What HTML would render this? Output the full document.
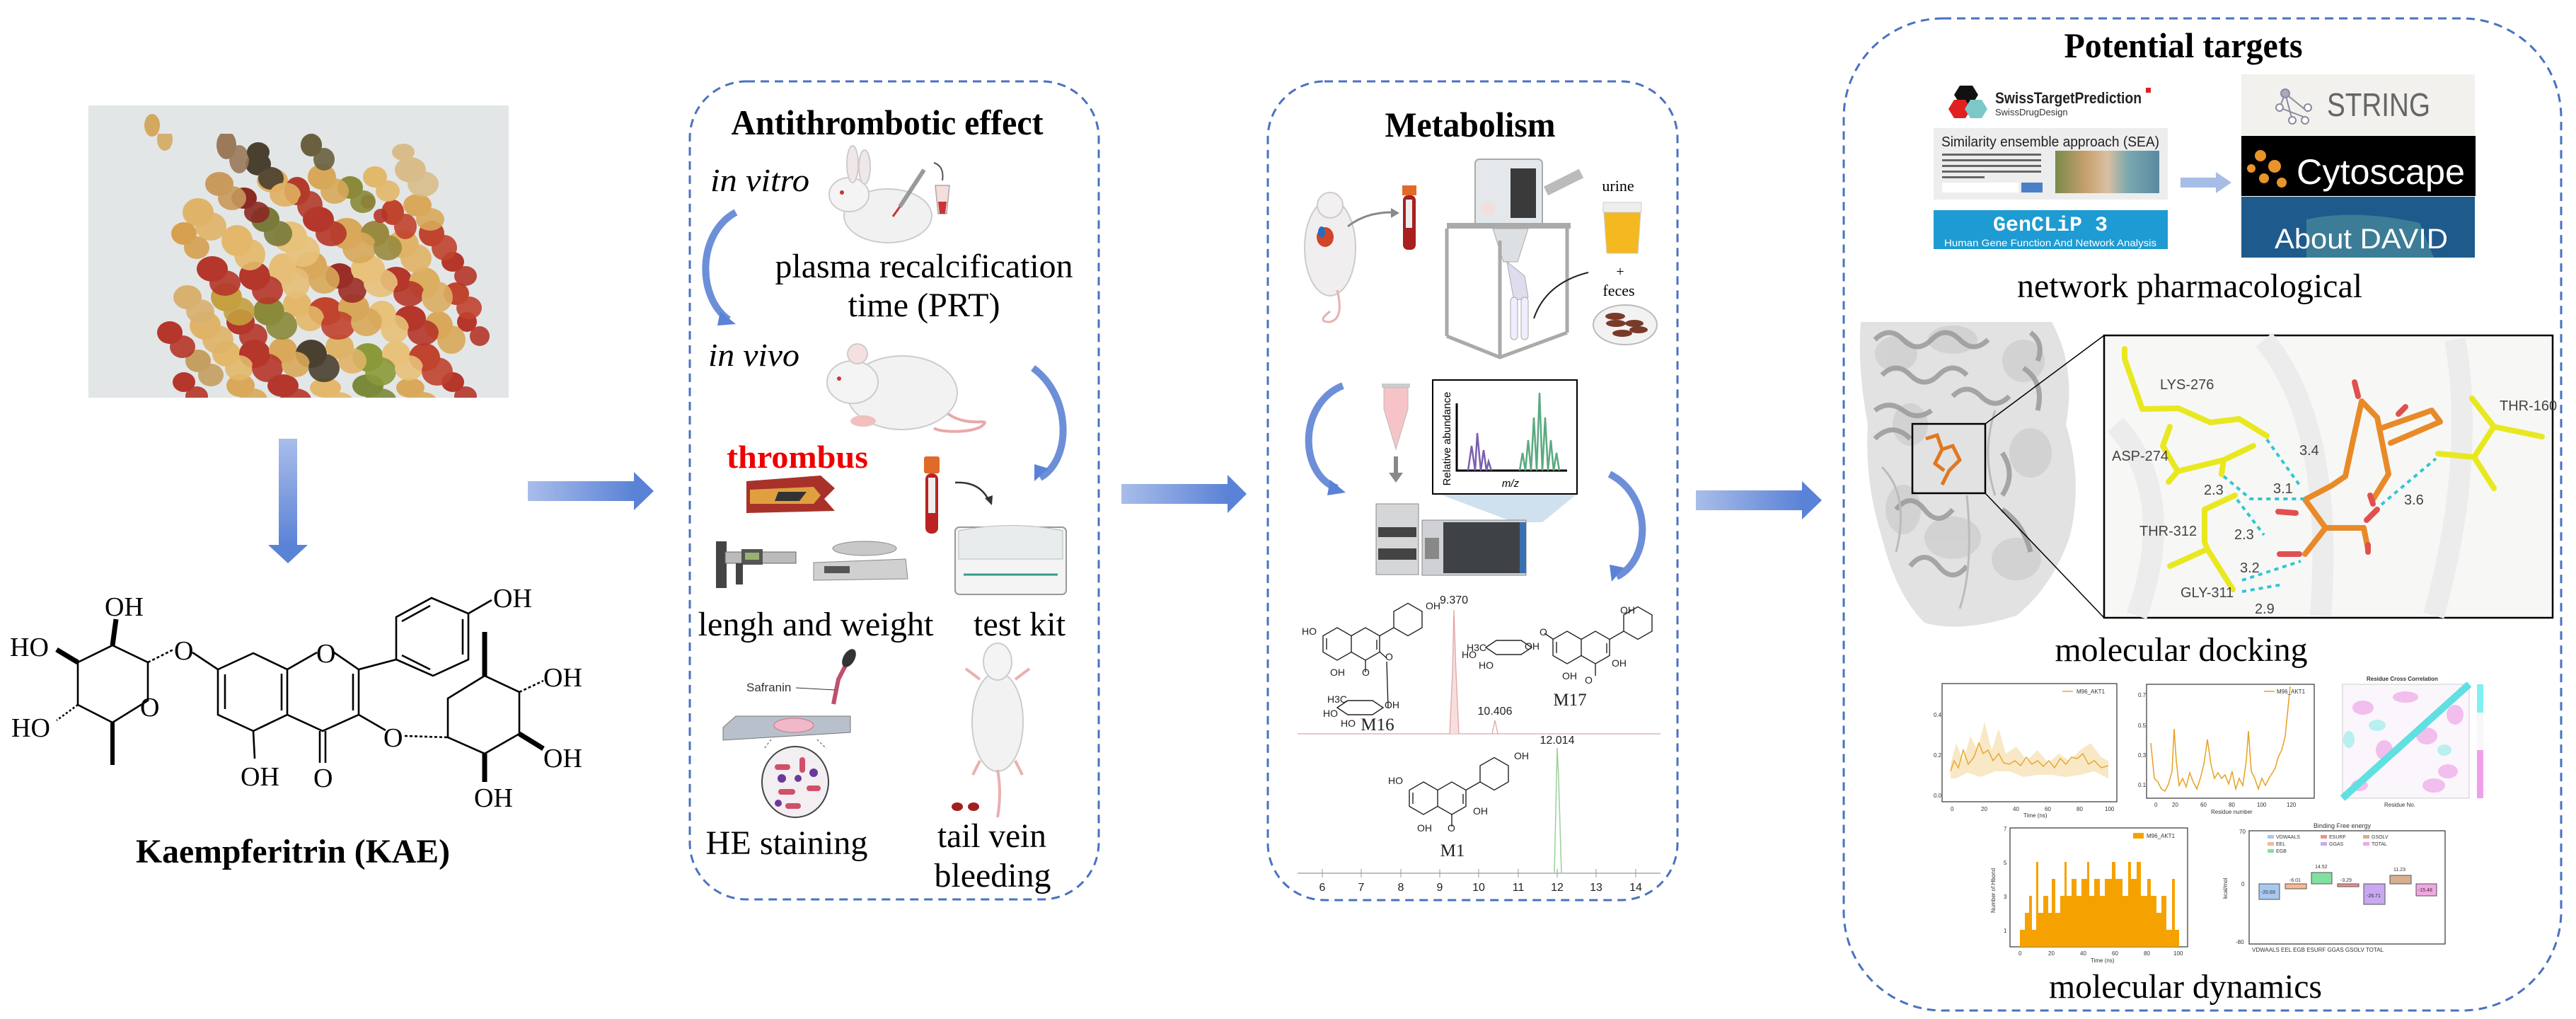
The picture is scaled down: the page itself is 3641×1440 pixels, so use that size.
<!DOCTYPE html>
<html><head><meta charset="utf-8"><style>
html,body{margin:0;padding:0;background:#fff;}
svg{display:block;}
.s{font-family:"Liberation Serif",serif;}
.a{font-family:"Liberation Sans",sans-serif;}
</style></head><body>
<svg width="3641" height="1440" viewBox="0 0 3641 1440" xmlns="http://www.w3.org/2000/svg">
<defs>
<linearGradient id="ga" x1="0" y1="0" x2="1" y2="0"><stop offset="0" stop-color="#a9bdea"/><stop offset="1" stop-color="#5a82d6"/></linearGradient>
<linearGradient id="gd" x1="0" y1="0" x2="0" y2="1"><stop offset="0" stop-color="#a9bdea"/><stop offset="1" stop-color="#5a82d6"/></linearGradient>
<linearGradient id="beach" x1="0" y1="0" x2="1" y2="0"><stop offset="0" stop-color="#7a8a4a"/><stop offset="0.3" stop-color="#c9a070"/><stop offset="0.5" stop-color="#d8c0a0"/><stop offset="0.7" stop-color="#7aa8b0"/><stop offset="1" stop-color="#5a8aa0"/></linearGradient>
<clipPath id="pc"><rect x="125" y="149" width="594" height="413"/></clipPath>
<g id="flav" fill="none" stroke="#222" stroke-width="1.4">
<polygon points="0,-23 20,-11.5 20,11.5 0,23 -20,11.5 -20,-11.5"/>
<polyline points="20,-11.5 40,-23 60,-11.5 60,11.5 40,23 20,11.5"/>
<line x1="60" y1="-11.5" x2="80" y2="-23"/>
<polygon points="80,-23 80,-46 100,-57.5 120,-46 120,-23 100,-11.5"/>
<line x1="40" y1="23" x2="40" y2="40"/>
<line x1="-15" y1="-8" x2="-15" y2="8"/><line x1="56" y1="-6" x2="56" y2="8"/>
</g>
</defs>

<!-- PHOTO -->
<rect x="125" y="149" width="594" height="413" fill="#e3e6e7"/>
<g clip-path="url(#pc)">
<g id="seeds">
<ellipse cx="215" cy="177" rx="11" ry="16" fill="#d3a860"/>
<ellipse cx="580" cy="240" rx="22" ry="18" fill="#d8bd8a"/>
<ellipse cx="520" cy="285" rx="10" ry="10" fill="#b5362a"/>
<ellipse cx="320" cy="205" rx="14" ry="20" fill="#9a7a5a"/>
<ellipse cx="365" cy="232" rx="18" ry="16" fill="#4a4030"/>
<ellipse cx="440" cy="205" rx="15" ry="16" fill="#6a6040"/>
<ellipse cx="280" cy="300" rx="22" ry="20" fill="#e0b468"/>
<ellipse cx="260" cy="330" rx="18" ry="16" fill="#d6a050"/>
<ellipse cx="310" cy="260" rx="20" ry="17" fill="#c89a5c"/>
<ellipse cx="345" cy="280" rx="18" ry="15" fill="#8a2a22"/>
<ellipse cx="385" cy="255" rx="22" ry="17" fill="#e0b060"/>
<ellipse cx="420" cy="270" rx="18" ry="20" fill="#b33b2b"/>
<ellipse cx="455" cy="250" rx="20" ry="18" fill="#d8a85a"/>
<ellipse cx="495" cy="265" rx="18" ry="16" fill="#8a8a3a"/>
<ellipse cx="530" cy="250" rx="17" ry="15" fill="#e2b86a"/>
<ellipse cx="555" cy="300" rx="16" ry="18" fill="#c0442e"/>
<ellipse cx="590" cy="290" rx="20" ry="16" fill="#d9a85a"/>
<ellipse cx="300" cy="380" rx="22" ry="18" fill="#b5362a"/>
<ellipse cx="335" cy="340" rx="22" ry="22" fill="#e3b86a"/>
<ellipse cx="375" cy="310" rx="20" ry="18" fill="#7a7a3a"/>
<ellipse cx="410" cy="335" rx="24" ry="22" fill="#e8c17a"/>
<ellipse cx="450" cy="310" rx="22" ry="18" fill="#b5362a"/>
<ellipse cx="490" cy="330" rx="24" ry="22" fill="#d9a85a"/>
<ellipse cx="530" cy="330" rx="20" ry="18" fill="#9a8a40"/>
<ellipse cx="570" cy="345" rx="22" ry="20" fill="#e0b468"/>
<ellipse cx="610" cy="330" rx="18" ry="18" fill="#c0442e"/>
<ellipse cx="640" cy="370" rx="16" ry="14" fill="#b5362a"/>
<ellipse cx="265" cy="420" rx="20" ry="17" fill="#d8b070"/>
<ellipse cx="320" cy="420" rx="22" ry="20" fill="#c4a040"/>
<ellipse cx="360" cy="390" rx="22" ry="20" fill="#b5362a"/>
<ellipse cx="400" cy="380" rx="20" ry="22" fill="#e6be78"/>
<ellipse cx="440" cy="375" rx="22" ry="20" fill="#d9a85a"/>
<ellipse cx="480" cy="390" rx="20" ry="18" fill="#9a2e26"/>
<ellipse cx="520" cy="380" rx="24" ry="20" fill="#e8c17a"/>
<ellipse cx="560" cy="395" rx="22" ry="18" fill="#b5362a"/>
<ellipse cx="600" cy="400" rx="22" ry="22" fill="#dcae62"/>
<ellipse cx="645" cy="415" rx="18" ry="16" fill="#c0442e"/>
<ellipse cx="240" cy="470" rx="18" ry="16" fill="#b5362a"/>
<ellipse cx="290" cy="460" rx="22" ry="20" fill="#e0b468"/>
<ellipse cx="340" cy="455" rx="20" ry="18" fill="#b5362a"/>
<ellipse cx="380" cy="440" rx="22" ry="20" fill="#8a8a3a"/>
<ellipse cx="420" cy="430" rx="20" ry="18" fill="#e3b86a"/>
<ellipse cx="460" cy="440" rx="24" ry="20" fill="#c0442e"/>
<ellipse cx="500" cy="435" rx="22" ry="20" fill="#d8a85a"/>
<ellipse cx="540" cy="445" rx="20" ry="20" fill="#e8c17a"/>
<ellipse cx="580" cy="450" rx="22" ry="18" fill="#b5362a"/>
<ellipse cx="620" cy="460" rx="20" ry="20" fill="#d9a85a"/>
<ellipse cx="660" cy="455" rx="14" ry="14" fill="#b5362a"/>
<ellipse cx="280" cy="510" rx="18" ry="16" fill="#c4a060"/>
<ellipse cx="320" cy="500" rx="20" ry="18" fill="#e3b86a"/>
<ellipse cx="360" cy="500" rx="22" ry="20" fill="#b5362a"/>
<ellipse cx="400" cy="495" rx="20" ry="18" fill="#d9a85a"/>
<ellipse cx="440" cy="500" rx="22" ry="20" fill="#4a4030"/>
<ellipse cx="480" cy="490" rx="20" ry="18" fill="#e0b468"/>
<ellipse cx="520" cy="505" rx="22" ry="20" fill="#8a9a3a"/>
<ellipse cx="560" cy="500" rx="20" ry="18" fill="#e8c17a"/>
<ellipse cx="600" cy="505" rx="22" ry="20" fill="#c0442e"/>
<ellipse cx="260" cy="540" rx="16" ry="14" fill="#b5362a"/>
<ellipse cx="340" cy="545" rx="20" ry="16" fill="#d9a85a"/>
<ellipse cx="400" cy="545" rx="22" ry="16" fill="#b5362a"/>
<ellipse cx="460" cy="548" rx="22" ry="14" fill="#e3b86a"/>
<ellipse cx="520" cy="545" rx="22" ry="16" fill="#7a8a3a"/>
<ellipse cx="580" cy="548" rx="20" ry="14" fill="#d9a85a"/>
<ellipse cx="640" cy="540" rx="16" ry="14" fill="#b5362a"/>
</g>
<use href="#seeds" transform="translate(18,20)" opacity="0.9"/>
<rect x="125" y="149" width="594" height="40" fill="#e3e6e7"/>
<ellipse cx="215" cy="177" rx="11" ry="16" fill="#d3a860"/>
<ellipse cx="440" cy="205" rx="15" ry="16" fill="#6a6040"/>
<ellipse cx="365" cy="215" rx="16" ry="14" fill="#4a4030"/>
<ellipse cx="570" cy="215" rx="16" ry="12" fill="#d8bd8a"/>
</g>

<!-- down arrow -->
<rect x="394" y="620" width="26" height="152" fill="url(#gd)"/>
<polygon points="379,770 435,770 407,796" fill="#5a82d6"/>

<!-- KAE structure -->
<g fill="none" stroke="#000" stroke-width="2.6">
<polygon points="110,936 159,912 209,936 209,990 159,1021 110,996"/>
<line x1="110" y1="996" x2="80" y2="1018" stroke-dasharray="3 3"/>
<line x1="209" y1="936" x2="245" y2="918" stroke-dasharray="4 3"/>
<line x1="272" y1="922" x2="308" y2="946"/>
<polygon points="308,946 358,923 406,946 406,1010 358,1033 308,1010"/>
<line x1="318" y1="1002" x2="318" y2="953"/><line x1="398" y1="952" x2="398" y2="1004"/>
<polyline points="406,946 448,922"/><polyline points="472,922 507,946 507,1010 456,1033 406,1010"/>
<line x1="499" y1="952" x2="499" y2="1004"/>
<line x1="452" y1="1033" x2="452" y2="1078"/><line x1="460" y1="1033" x2="460" y2="1078"/>
<line x1="358" y1="1033" x2="360" y2="1072"/>
<line x1="507" y1="946" x2="560" y2="932"/>
<polygon points="560,872 610,845 662,867 662,932 612,955 560,932"/>
<line x1="568" y1="878" x2="608" y2="856"/><line x1="654" y1="875" x2="654" y2="925"/><line x1="568" y1="926" x2="608" y2="946"/>
<line x1="662" y1="867" x2="695" y2="848"/>
<line x1="507" y1="1010" x2="545" y2="1032"/>
<line x1="572" y1="1040" x2="633" y2="1042" stroke-dasharray="4 3"/>
<polygon points="633,987 685,955 734,978 734,1037 685,1065 633,1042"/>
<line x1="685" y1="955" x2="685" y2="893" stroke-width="7"/>
<line x1="734" y1="978" x2="768" y2="962" stroke-dasharray="4 3"/>
<line x1="734" y1="1037" x2="768" y2="1058" stroke-width="7"/>
<line x1="685" y1="1065" x2="685" y2="1105" stroke-width="7"/>
<line x1="159" y1="912" x2="164" y2="875" stroke-width="7"/>
<line x1="110" y1="936" x2="80" y2="918" stroke-width="7"/>
<line x1="159" y1="1021" x2="159" y2="1081" stroke-width="6"/>
</g>
<g class="s" font-size="38" fill="#000">
<text x="148" y="870">OH</text>
<text x="14" y="927">HO</text>
<text x="16" y="1041">HO</text>
<text x="198" y="1012">O</text>
<text x="246" y="932">O</text>
<text x="447" y="936">O</text>
<text x="340" y="1110">OH</text>
<text x="443" y="1112">O</text>
<text x="542" y="1055">O</text>
<text x="697" y="858">OH</text>
<text x="768" y="970">OH</text>
<text x="768" y="1084">OH</text>
<text x="670" y="1140">OH</text>
</g>
<text class="s" x="414" y="1219" font-size="48" font-weight="bold" text-anchor="middle" textLength="444" lengthAdjust="spacingAndGlyphs">Kaempferitrin (KAE)</text>

<!-- arrow1 -->
<rect x="746" y="680" width="152" height="28" fill="url(#ga)"/>
<polygon points="896,667 924,694 896,721" fill="#5a82d6"/>

<!-- Antithrombotic box -->
<rect x="975" y="115" width="578" height="1156" rx="80" fill="none" stroke="#4a72c0" stroke-width="3" stroke-dasharray="12 8"/>
<text class="s" x="1254" y="190" font-size="50" font-weight="bold" text-anchor="middle" textLength="441" lengthAdjust="spacingAndGlyphs">Antithrombotic effect</text>
<text class="s" x="1004" y="270" font-size="46" font-style="italic" textLength="140" lengthAdjust="spacingAndGlyphs">in vitro</text>
<g>
<ellipse cx="1255" cy="305" rx="62" ry="38" fill="#f1f1f1" stroke="#ccc" stroke-width="2"/>
<ellipse cx="1200" cy="275" rx="28" ry="24" fill="#f4f4f4" stroke="#ccc" stroke-width="2"/>
<ellipse cx="1205" cy="232" rx="8" ry="26" fill="#f0e8e8" stroke="#ccc" stroke-width="2"/>
<ellipse cx="1222" cy="236" rx="8" ry="24" fill="#f0e8e8" stroke="#ccc" stroke-width="2"/>
<circle cx="1190" cy="272" r="3" fill="#c33"/>
<line x1="1272" y1="292" x2="1306" y2="240" stroke="#999" stroke-width="6"/>
<line x1="1272" y1="292" x2="1262" y2="306" stroke="#c33" stroke-width="3"/>
<path d="M1320,230 Q1335,235 1332,255" fill="none" stroke="#555" stroke-width="2"/>
<path d="M1322,262 h20 l-4,40 h-12 z" fill="#f5dddd" stroke="#aaa" stroke-width="1.5"/>
<path d="M1326,285 h12 l-2,17 h-8 z" fill="#c33"/>
</g>
<text class="s" x="1306" y="392" font-size="48" text-anchor="middle" textLength="421" lengthAdjust="spacingAndGlyphs">plasma recalcification</text>
<text class="s" x="1306" y="447" font-size="48" text-anchor="middle" textLength="215" lengthAdjust="spacingAndGlyphs">time (PRT)</text>
<path d="M1040,300 C985,330 985,420 1030,452" fill="none" stroke="#6d8fd8" stroke-width="10"/>
<polygon points="1018,440 1040,458 1014,460" fill="#5a82d6"/>
<text class="s" x="1001" y="517" font-size="46" font-style="italic" textLength="129" lengthAdjust="spacingAndGlyphs">in vivo</text>
<g>
<ellipse cx="1275" cy="555" rx="78" ry="52" fill="#f2f2f2" stroke="#ccc" stroke-width="2"/>
<ellipse cx="1205" cy="540" rx="36" ry="30" fill="#f4f4f4" stroke="#ccc" stroke-width="2"/>
<circle cx="1212" cy="500" r="14" fill="#f5e0e0" stroke="#ccc" stroke-width="2"/>
<circle cx="1186" cy="535" r="3" fill="#c33"/>
<path d="M1340,585 C1370,605 1400,590 1390,600 C1380,612 1330,612 1320,605" fill="none" stroke="#e9a9a9" stroke-width="4"/>
<ellipse cx="1220" cy="595" rx="18" ry="8" fill="#f0c0c0"/>
</g>
<path d="M1460,520 C1515,560 1515,650 1470,675" fill="none" stroke="#6d8fd8" stroke-width="10"/>
<polygon points="1482,662 1462,680 1462,656" fill="#5a82d6"/>
<text class="s" x="1127" y="661" font-size="46" font-weight="bold" fill="#e00" text-anchor="middle" textLength="200" lengthAdjust="spacingAndGlyphs">thrombus</text>
<path d="M1055,680 L1160,672 L1180,690 L1165,705 L1180,722 L1055,725 Z" fill="#a8322a"/>
<path d="M1060,692 L1150,688 L1160,700 L1150,712 L1060,712 Z" fill="#e0a040"/>
<path d="M1100,695 L1140,695 L1130,708 L1095,708 Z" fill="#333"/>
<rect x="1306" y="645" width="22" height="24" rx="3" fill="#e06a2a"/>
<rect x="1308" y="669" width="18" height="85" rx="8" fill="#b22"/>
<rect x="1312" y="675" width="10" height="50" fill="#eee"/>
<path d="M1350,682 Q1385,680 1398,708" fill="none" stroke="#333" stroke-width="2.5"/>
<polygon points="1392,704 1402,714 1403,700" fill="#333"/>
<rect x="1012" y="765" width="15" height="66" fill="#444"/>
<rect x="1025" y="780" width="100" height="16" fill="#bbb" stroke="#666"/>
<rect x="1048" y="776" width="30" height="22" fill="#555"/>
<rect x="1053" y="781" width="20" height="10" fill="#9bb070"/>
<rect x="1040" y="796" width="10" height="30" fill="#444"/>
<path d="M1150,795 L1280,790 L1283,818 L1150,820 Z" fill="#d0d0d0" stroke="#888"/>
<ellipse cx="1222" cy="775" rx="45" ry="10" fill="#c8c8c8" stroke="#888"/>
<rect x="1165" y="800" width="36" height="10" fill="#555"/>
<rect x="1350" y="745" width="157" height="95" rx="6" fill="#f4f4f4" stroke="#999" stroke-width="2"/>
<path d="M1355,750 Q1430,735 1502,750 L1502,790 L1355,790 Z" fill="#e8ecec" stroke="#bbb"/>
<line x1="1362" y1="812" x2="1495" y2="812" stroke="#3a9a8a" stroke-width="3"/>
<text class="s" x="1153" y="898" font-size="48" text-anchor="middle" textLength="333" lengthAdjust="spacingAndGlyphs">lengh and weight</text>
<text class="s" x="1441" y="898" font-size="48" text-anchor="middle" textLength="130" lengthAdjust="spacingAndGlyphs">test kit</text>
<path d="M1203,925 L1185,960 L1178,995" fill="none" stroke="#c0506a" stroke-width="6"/>
<ellipse cx="1200" cy="930" rx="8" ry="14" fill="#333" transform="rotate(30 1200 930)"/>
<text class="a" x="1055" y="977" font-size="17" fill="#333">Safranin</text>
<line x1="1125" y1="972" x2="1180" y2="975" stroke="#333"/>
<path d="M1022,1028 L1040,1012 L1202,1012 L1202,1035 L1022,1046 Z" fill="#b8c0cc" stroke="#777"/>
<ellipse cx="1122" cy="1025" rx="28" ry="10" fill="#f0b8c8" stroke="#c77"/>
<ellipse cx="1124" cy="1105" rx="47" ry="50" fill="#f2eef2" stroke="#444" stroke-width="2"/>
<g fill="#d0506a"><rect x="1095" y="1080" width="22" height="8" rx="4"/><rect x="1130" y="1070" width="8" height="22" rx="4"/><rect x="1100" y="1115" width="24" height="8" rx="4"/><rect x="1140" y="1110" width="20" height="8" rx="4"/><rect x="1110" y="1135" width="22" height="8" rx="4"/></g>
<g fill="#6a3a9a"><circle cx="1150" cy="1092" r="6"/><circle cx="1105" cy="1100" r="6"/><circle cx="1128" cy="1100" r="5"/><circle cx="1100" cy="1135" r="5"/></g>
<line x1="1090" y1="1045" x2="1080" y2="1058" stroke="#444" stroke-dasharray="3 3"/>
<line x1="1155" y1="1045" x2="1168" y2="1058" stroke="#444" stroke-dasharray="3 3"/>
<g>
<ellipse cx="1410" cy="1020" rx="36" ry="70" fill="#f2f2f2" stroke="#ccc" stroke-width="2"/>
<ellipse cx="1410" cy="935" rx="20" ry="26" fill="#f4f4f4" stroke="#ccc" stroke-width="2"/>
<line x1="1385" y1="960" x2="1365" y2="945" stroke="#e9b0b0" stroke-width="4"/>
<line x1="1435" y1="960" x2="1455" y2="945" stroke="#e9b0b0" stroke-width="4"/>
<line x1="1385" y1="1075" x2="1375" y2="1095" stroke="#e9b0b0" stroke-width="4"/>
<line x1="1435" y1="1075" x2="1445" y2="1095" stroke="#e9b0b0" stroke-width="4"/>
<path d="M1410,1088 Q1416,1120 1410,1155" fill="none" stroke="#e9b0b0" stroke-width="4"/>
<ellipse cx="1353" cy="1140" rx="8" ry="6" fill="#a02020"/>
<ellipse cx="1376" cy="1140" rx="8" ry="6" fill="#a02020"/>
</g>
<text class="s" x="1112" y="1207" font-size="48" text-anchor="middle" textLength="229" lengthAdjust="spacingAndGlyphs">HE staining</text>
<text class="s" x="1402" y="1197" font-size="48" text-anchor="middle" textLength="154" lengthAdjust="spacingAndGlyphs">tail vein</text>
<text class="s" x="1403" y="1253" font-size="48" text-anchor="middle" textLength="165" lengthAdjust="spacingAndGlyphs">bleeding</text>

<!-- arrow2 -->
<rect x="1585" y="684" width="152" height="28" fill="url(#ga)"/>
<polygon points="1735,671 1762,698 1735,725" fill="#5a82d6"/>

<!-- Metabolism box -->
<rect x="1792" y="115" width="579" height="1157" rx="80" fill="none" stroke="#4a72c0" stroke-width="3" stroke-dasharray="12 8"/>
<text class="s" x="2078" y="193" font-size="50" font-weight="bold" text-anchor="middle" textLength="241" lengthAdjust="spacingAndGlyphs">Metabolism</text>
<ellipse cx="1880" cy="350" rx="36" ry="68" fill="#f0eeee" stroke="#ccc" stroke-width="2"/>
<ellipse cx="1880" cy="290" rx="18" ry="18" fill="#f2f0f0" stroke="#ccc" stroke-width="2"/>
<ellipse cx="1873" cy="335" rx="12" ry="14" fill="#d0442a"/>
<ellipse cx="1868" cy="328" rx="5" ry="8" fill="#2a6ac0"/>
<path d="M1890,410 Q1900,450 1880,455 Q1860,455 1880,440" fill="none" stroke="#e9b0b0" stroke-width="3"/>
<path d="M1905,320 Q1930,300 1968,300" fill="none" stroke="#888" stroke-width="3"/>
<polygon points="1966,294 1978,301 1966,308" fill="#888"/>
<rect x="1982" y="262" width="20" height="14" fill="#e06a2a"/>
<rect x="1983" y="276" width="18" height="77" rx="7" fill="#a82020"/>
<rect x="1987" y="282" width="9" height="40" fill="#eee"/>
<rect x="2085" y="225" width="95" height="95" rx="6" fill="#e4e8ea" stroke="#aaa" stroke-width="2"/>
<rect x="2135" y="238" width="36" height="70" fill="#3a3a3a"/>
<circle cx="2103" cy="295" r="10" fill="#f2dede"/>
<line x1="2185" y1="270" x2="2235" y2="245" stroke="#bbb" stroke-width="14"/>
<rect x="2045" y="315" width="175" height="8" fill="#aaa"/>
<polygon points="2110,323 2160,323 2145,370 2125,370" fill="#dde0e2" stroke="#aaa"/>
<line x1="2045" y1="323" x2="2045" y2="475" stroke="#aaa" stroke-width="5"/>
<line x1="2215" y1="323" x2="2215" y2="470" stroke="#aaa" stroke-width="5"/>
<line x1="2120" y1="340" x2="2120" y2="505" stroke="#aaa" stroke-width="5"/>
<polyline points="2045,475 2120,505 2215,470" fill="none" stroke="#aaa" stroke-width="5"/>
<path d="M2130,370 L2155,390 L2160,420 L2140,425 Z" fill="#dde" stroke="#aaa"/>
<rect x="2135" y="420" width="10" height="60" rx="5" fill="#eef" stroke="#aaa"/>
<rect x="2150" y="420" width="10" height="60" rx="5" fill="#eef" stroke="#aaa"/>
<path d="M2168,450 Q2185,400 2245,385" fill="none" stroke="#222" stroke-width="2"/>
<text class="s" x="2287" y="270" font-size="22" text-anchor="middle">urine</text>
<path d="M2266,286 h54 l-5,72 h-44 z" fill="#f4b820" stroke="#ccc"/>
<rect x="2266" y="286" width="54" height="14" fill="#eee" stroke="#ccc"/>
<text class="s" x="2290" y="390" font-size="20" text-anchor="middle">+</text>
<text class="s" x="2288" y="418" font-size="22" text-anchor="middle">feces</text>
<ellipse cx="2297" cy="459" rx="45" ry="28" fill="#f2f2f2" stroke="#bbb" stroke-width="2"/>
<g fill="#7a3a2a"><ellipse cx="2283" cy="447" rx="14" ry="5"/><ellipse cx="2284" cy="457" rx="14" ry="5"/><ellipse cx="2310" cy="457" rx="13" ry="5"/><ellipse cx="2316" cy="466" rx="13" ry="5"/><ellipse cx="2293" cy="471" rx="14" ry="5"/></g>
<path d="M1898,545 C1835,570 1835,670 1890,690" fill="none" stroke="#6d8fd8" stroke-width="10"/>
<polygon points="1880,678 1902,696 1876,700" fill="#5a82d6"/>
<path d="M2275,670 C2335,700 2335,790 2285,815" fill="none" stroke="#6d8fd8" stroke-width="10"/>
<polygon points="2295,802 2278,822 2275,798" fill="#5a82d6"/>
<rect x="1953" y="542" width="40" height="6" fill="#ccc"/>
<path d="M1956,548 h34 v30 l-17,57 l-17,-57 z" fill="#f6c4c8" stroke="#bbb"/>
<line x1="1973" y1="645" x2="1973" y2="670" stroke="#888" stroke-width="6"/>
<polygon points="1963,668 1983,668 1973,682" fill="#888"/>
<polygon points="2034,698 2229,698 2180,738 2140,738" fill="#cfe0ee"/>
<rect x="1945" y="712" width="60" height="100" fill="#d4d6d8" stroke="#888"/>
<rect x="1948" y="745" width="54" height="14" fill="#444"/>
<rect x="1948" y="775" width="54" height="16" fill="#444"/>
<rect x="2010" y="735" width="147" height="78" fill="#cfd1d4" stroke="#888"/>
<rect x="2040" y="738" width="115" height="72" fill="#3e4246"/>
<rect x="2148" y="738" width="9" height="72" fill="#3a70b0"/>
<rect x="2014" y="760" width="20" height="30" fill="#888"/>
<rect x="2025" y="537" width="204" height="161" fill="#fff" stroke="#000" stroke-width="2"/>
<polyline points="2059,570 2059,665 2215,665" fill="none" stroke="#000" stroke-width="3"/>
<path d="M2075,665 L2080,630 L2085,665 L2088,612 L2093,665 L2097,636 L2101,665 L2104,652 L2108,665" fill="none" stroke="#7a60b0" stroke-width="2.5"/>
<path d="M2148,665 L2152,640 L2156,665 L2160,622 L2164,665 L2168,590 L2172,665 L2176,555 L2180,665 L2184,590 L2188,665 L2192,622 L2196,665 L2200,640 L2204,665" fill="none" stroke="#5aaa80" stroke-width="2.5"/>
<text class="a" x="2050" y="620" font-size="15" transform="rotate(-90 2050 620)" text-anchor="middle">Relative abundance</text>
<text class="a" x="2135" y="688" font-size="15" font-style="italic" text-anchor="middle">m/z</text>
<line x1="1834" y1="1037" x2="2347" y2="1037" stroke="#d8b8b8" stroke-width="1.5"/>
<path d="M2049,1037 L2053,950 L2055,862 L2058,950 L2062,1037" fill="#f6dede" stroke="#e0a0a0" stroke-width="1.2"/>
<path d="M2109,1037 L2113,1018 L2117,1037" fill="none" stroke="#e0a0a0" stroke-width="1.2"/>
<line x1="1834" y1="1234" x2="2347" y2="1234" stroke="#aaa" stroke-width="1.5"/>
<path d="M2197,1234 L2200,1100 L2201,1057 L2203,1100 L2207,1234" fill="none" stroke="#9ad09a" stroke-width="1.5"/>
<g stroke="#999" stroke-width="1">
<line x1="1869" y1="1228" x2="1869" y2="1240"/><line x1="1924" y1="1228" x2="1924" y2="1240"/><line x1="1980" y1="1228" x2="1980" y2="1240"/><line x1="2035" y1="1228" x2="2035" y2="1240"/><line x1="2090" y1="1228" x2="2090" y2="1240"/><line x1="2146" y1="1228" x2="2146" y2="1240"/><line x1="2201" y1="1228" x2="2201" y2="1240"/><line x1="2256" y1="1228" x2="2256" y2="1240"/><line x1="2312" y1="1228" x2="2312" y2="1240"/>
</g>
<g class="a" font-size="16" fill="#222" text-anchor="middle">
<text x="1869" y="1259">6</text><text x="1924" y="1259">7</text><text x="1980" y="1259">8</text><text x="2035" y="1259">9</text><text x="2090" y="1259">10</text><text x="2146" y="1259">11</text><text x="2201" y="1259">12</text><text x="2256" y="1259">13</text><text x="2312" y="1259">14</text>
<text x="2055" y="853">9.370</text><text x="2113" y="1010">10.406</text><text x="2201" y="1051">12.014</text>
</g>
<use href="#flav" x="1890" y="910"/>
<use href="#flav" x="2215" y="915"/>
<use href="#flav" x="2012" y="1128"/>
<g fill="none" stroke="#222" stroke-width="1.4">
<line x1="1950" y1="921" x2="1960" y2="930"/><line x1="1960" y1="935" x2="1962" y2="1000"/>
<polygon points="1890,1000 1905,990 1940,990 1955,1000 1940,1010 1905,1010"/>
<line x1="2195" y1="903" x2="2183" y2="895"/>
<polygon points="2100,915 2115,905 2150,905 2165,915 2150,925 2115,925"/>
</g>
<g class="a" font-size="14" fill="#222">
<text x="1840" y="897">HO</text><text x="1880" y="955">OH</text><text x="1925" y="955">O</text><text x="1958" y="933">O</text><text x="2015" y="861">OH</text>
<text x="1876" y="993">H3C</text><text x="1870" y="1013">HO</text><text x="1957" y="1001">OH</text><text x="1895" y="1027">HO</text>
<text x="2176" y="898">O</text><text x="2073" y="920">H3C</text><text x="2066" y="930">HO</text><text x="2155" y="918">OH</text><text x="2090" y="945">HO</text>
<text x="2208" y="960">OH</text><text x="2278" y="942">OH</text><text x="2290" y="867">OH</text><text x="2240" y="966">O</text>
<text x="1962" y="1108">HO</text><text x="2003" y="1175">OH</text><text x="2046" y="1175">O</text><text x="2082" y="1151">OH</text><text x="2140" y="1073">OH</text>
</g>
<g class="s" font-size="25" fill="#222" text-anchor="middle">
<text x="1947" y="1032">M16</text><text x="2219" y="997">M17</text><text x="2053" y="1210">M1</text>
</g>

<!-- arrow3 -->
<rect x="2397" y="693" width="152" height="28" fill="url(#ga)"/>
<polygon points="2547,680 2575,707 2547,734" fill="#5a82d6"/>

<!-- Potential targets box -->
<rect x="2606" y="26" width="1014" height="1402" rx="140" fill="none" stroke="#4a72c0" stroke-width="3" stroke-dasharray="12 8"/>
<text class="s" x="3086" y="81" font-size="50" font-weight="bold" text-anchor="middle" textLength="337" lengthAdjust="spacingAndGlyphs">Potential targets</text>
<polygon points="2770,121 2788,121 2796,134 2788,147 2770,147 2762,134" fill="#111"/>
<polygon points="2762,141 2778,141 2786,154 2778,167 2762,167 2754,154" fill="#e02020"/>
<polygon points="2785,141 2801,141 2809,154 2801,167 2785,167 2777,154" fill="#7cc8c8"/>
<text class="a" x="2820" y="146" font-size="22" font-weight="bold" fill="#222" textLength="207" lengthAdjust="spacingAndGlyphs">SwissTargetPrediction</text>
<text class="a" x="2820" y="163" font-size="13" fill="#333">SwissDrugDesign</text>
<rect x="3033" y="124" width="7" height="7" fill="#e02020"/>
<rect x="2733" y="181" width="331" height="101" fill="#ededed"/>
<text class="a" x="2744" y="207" font-size="20" fill="#222" textLength="308" lengthAdjust="spacingAndGlyphs">Similarity ensemble approach (SEA)</text>
<g fill="#666"><rect x="2745" y="217" width="140" height="3"/><rect x="2745" y="225" width="140" height="3"/><rect x="2745" y="233" width="140" height="3"/><rect x="2745" y="241" width="140" height="3"/><rect x="2745" y="249" width="60" height="3"/></g>
<rect x="2745" y="258" width="108" height="14" fill="#fff"/>
<rect x="2857" y="258" width="30" height="14" fill="#4a80c8"/>
<rect x="2905" y="213" width="147" height="60" fill="url(#beach)"/>
<rect x="2733" y="297" width="331" height="55" fill="#1e9bd2"/>
<text x="2898" y="326" font-family="Liberation Mono,monospace" font-size="30" font-weight="bold" fill="#fff" text-anchor="middle">GenCLiP 3</text>
<text class="a" x="2898" y="348" font-size="14" fill="#fff" text-anchor="middle" textLength="300" lengthAdjust="spacingAndGlyphs">Human Gene Function And Network Analysis</text>
<rect x="3082" y="251" width="52" height="14" fill="#a6bde6"/>
<polygon points="3132,243 3154,258 3132,273" fill="#a6bde6"/>
<rect x="3168" y="105" width="330" height="86" fill="#f2f1ee"/>
<g stroke="#8a8aa0" stroke-width="2" fill="#fff"><line x1="3230" y1="132" x2="3222" y2="152"/><line x1="3230" y1="132" x2="3262" y2="158"/><line x1="3222" y1="152" x2="3258" y2="166"/><line x1="3230" y1="132" x2="3240" y2="170"/><circle cx="3230" cy="132" r="6" fill="#aab"/><circle cx="3222" cy="152" r="5"/><circle cx="3262" cy="152" r="5"/><circle cx="3240" cy="170" r="5"/><circle cx="3258" cy="170" r="5"/></g>
<text class="a" x="3289" y="164" font-size="46" fill="#666" textLength="146" lengthAdjust="spacingAndGlyphs">STRING</text>
<rect x="3168" y="192" width="331" height="85" fill="#000"/>
<g fill="#e8942a"><circle cx="3195" cy="220" r="8"/><circle cx="3215" cy="235" r="9"/><circle cx="3200" cy="252" r="7"/><circle cx="3225" cy="258" r="7"/><circle cx="3182" cy="238" r="6"/></g>
<text class="a" x="3246" y="260" font-size="50" fill="#fff" textLength="238" lengthAdjust="spacingAndGlyphs">Cytoscape</text>
<rect x="3168" y="278" width="330" height="86" fill="#1f5a8c"/>
<path d="M3260,310 Q3330,295 3420,315 L3440,364 L3260,364 Z" fill="#4a8a9a" opacity="0.7"/>
<text class="a" x="3215" y="351" font-size="40" fill="#fff" textLength="245" lengthAdjust="spacingAndGlyphs">About DAVID</text>
<text class="s" x="3095" y="420" font-size="48" text-anchor="middle" textLength="488" lengthAdjust="spacingAndGlyphs">network pharmacological</text>
<!-- protein -->
<path d="M2630,455 L2900,455 Q2935,520 2920,600 Q2945,680 2925,760 Q2900,830 2850,870 Q2770,895 2720,880 Q2680,840 2660,760 Q2635,680 2640,600 Q2625,520 2630,455 Z" fill="#e2e2e2"/>
<g fill="#cfcfcf" opacity="0.8"><ellipse cx="2680" cy="500" rx="30" ry="25"/><ellipse cx="2760" cy="480" rx="35" ry="20"/><ellipse cx="2860" cy="510" rx="30" ry="30"/><ellipse cx="2700" cy="600" rx="25" ry="30"/><ellipse cx="2870" cy="640" rx="30" ry="35"/><ellipse cx="2760" cy="760" rx="40" ry="30"/><ellipse cx="2690" cy="720" rx="25" ry="35"/><ellipse cx="2850" cy="790" rx="35" ry="30"/></g>
<g fill="none" stroke="#9a9a9a" stroke-width="7" opacity="0.85">
<path d="M2650,480 q20,-20 40,0 t40,0 t40,0 t40,0"/><path d="M2660,530 q20,-20 40,0 t40,0 t40,0"/><path d="M2760,560 q20,-20 40,0 t40,0"/><path d="M2650,620 q25,-25 50,0"/><path d="M2830,640 q20,30 0,60"/><path d="M2680,720 q20,-25 40,0 t40,0"/><path d="M2830,720 q30,20 40,60"/><path d="M2700,800 q20,-25 40,0 t40,0"/><path d="M2860,520 q30,20 20,60"/><path d="M2650,580 q20,-15 40,0 t40,0"/><path d="M2870,470 q20,15 10,40"/>
</g>
<g fill="none" stroke="#bbb" stroke-width="3"><path d="M2660,660 Q2700,700 2680,780"/><path d="M2780,700 Q2790,800 2770,860"/><path d="M2820,580 Q2800,640 2820,700"/></g>
<g stroke="#e07820" stroke-width="5" fill="none"><polyline points="2722,620 2738,615 2745,635 2760,630 2770,650 2755,665 2745,685"/><polyline points="2745,635 2735,655 2748,665"/></g>
<rect x="2703" y="599" width="103" height="98" fill="none" stroke="#000" stroke-width="2.5"/>
<line x1="2806" y1="599" x2="2974" y2="474" stroke="#000" stroke-width="1.5"/>
<line x1="2806" y1="697" x2="2974" y2="873" stroke="#000" stroke-width="1.5"/>
<rect x="2974" y="474" width="634" height="399" fill="#f7f7f6" stroke="#000" stroke-width="2.5"/>
<g fill="none" stroke="#ececec" stroke-width="30"><path d="M3200,480 Q3300,600 3280,870"/><path d="M3470,480 Q3500,650 3440,870"/><path d="M2990,600 Q3080,700 3020,870"/></g>
<g fill="none" stroke="#e8e820" stroke-width="8" stroke-linecap="round" stroke-linejoin="round">
<polyline points="3003,493 3003,507 3028,578 3079,577 3124,597 3165,592 3204,616"/>
<polyline points="3067,603 3057,630 3078,666 3065,681"/><polyline points="3078,666 3143,650 3185,630"/><line x1="3143" y1="650" x2="3140" y2="670"/>
<polyline points="3159,700 3116,720 3116,766 3120,776"/><polyline points="3120,776 3067,800"/><polyline points="3120,776 3156,833"/>
<polyline points="3494,563 3525,603 3593,617"/><polyline points="3525,603 3497,646 3446,641"/><line x1="3497" y1="646" x2="3525" y2="690"/>
</g>
<g fill="none" stroke="#e88a28" stroke-width="8" stroke-linecap="round" stroke-linejoin="round">
<polyline points="3338,567 3325,626 3315,673 3296,686 3258,706 3287,746 3341,746"/>
<polyline points="3338,567 3360,590 3376,670 3354,706"/>
<polyline points="3363,606 3437,580 3449,596 3379,626"/>
<line x1="3287" y1="746" x2="3258" y2="783"/><line x1="3341" y1="746" x2="3347" y2="776"/>
</g>
<g stroke="#e05050" stroke-width="8" stroke-linecap="round"><line x1="3328" y1="540" x2="3333" y2="560"/><line x1="3350" y1="700" x2="3354" y2="712"/><line x1="3220" y1="723" x2="3245" y2="725"/><line x1="3360" y1="720" x2="3345" y2="735"/><line x1="3347" y1="770" x2="3347" y2="780"/><line x1="3222" y1="783" x2="3250" y2="783"/><line x1="3390" y1="585" x2="3400" y2="575"/></g>
<g fill="none" stroke="#30c8d0" stroke-width="4" stroke-dasharray="6 6">
<line x1="3204" y1="621" x2="3252" y2="688"/><polyline points="3143,673 3181,705 3258,705"/><line x1="3162" y1="706" x2="3200" y2="756"/><line x1="3169" y1="820" x2="3252" y2="793"/><line x1="3169" y1="836" x2="3226" y2="826"/><line x1="3366" y1="713" x2="3443" y2="648"/>
</g>
<g class="a" font-size="20" fill="#444">
<text x="3053" y="550">LYS-276</text><text x="2985" y="651">ASP-274</text><text x="3024" y="757">THR-312</text><text x="3082" y="844">GLY-311</text><text x="3533" y="580">THR-160</text>
<text x="3250" y="643">3.4</text><text x="3213" y="697">3.1</text><text x="3115" y="699">2.3</text><text x="3158" y="762">2.3</text><text x="3166" y="809">3.2</text><text x="3187" y="867">2.9</text><text x="3398" y="713">3.6</text>
</g>
<text class="s" x="3083" y="934" font-size="48" text-anchor="middle" textLength="357" lengthAdjust="spacingAndGlyphs">molecular docking</text>
<g class="a" font-size="8" fill="#333">
<rect x="2745" y="966" width="247" height="167" fill="#fff" stroke="#333" stroke-width="1.2"/>
<path d="M2757,1080 L2765,1050 L2775,1075 L2785,1040 L2795,1060 L2805,1020 L2815,1060 L2825,1030 L2835,1065 L2850,1055 L2865,1075 L2880,1060 L2895,1078 L2910,1065 L2925,1075 L2940,1060 L2955,1050 L2970,1070 L2980,1075 L2980,1100 L2960,1090 L2940,1095 L2920,1098 L2900,1095 L2880,1095 L2860,1098 L2840,1090 L2820,1090 L2800,1098 L2780,1092 L2765,1100 L2757,1100 Z" fill="#f8e2b8" opacity="0.8"/>
<polyline points="2757,1090 2762,1075 2768,1085 2775,1060 2782,1080 2790,1070 2797,1050 2803,1065 2810,1060 2817,1075 2825,1065 2832,1078 2840,1080 2848,1075 2856,1082 2864,1070 2872,1080 2880,1075 2888,1083 2896,1075 2904,1085 2912,1072 2920,1080 2928,1070 2936,1072 2944,1065 2952,1080 2960,1075 2970,1085 2980,1082" fill="none" stroke="#e8a830" stroke-width="1.5"/>
<line x1="2915" y1="977" x2="2930" y2="977" stroke="#e8a830" stroke-width="1.5"/><text x="2935" y="980">M96_AKT1</text>
<text x="2733" y="1013">0.4</text><text x="2733" y="1070">0.2</text><text x="2733" y="1127">0.0</text>
<text x="2757" y="1146">0</text><text x="2800" y="1146">20</text><text x="2845" y="1146">40</text><text x="2890" y="1146">60</text><text x="2935" y="1146">80</text><text x="2975" y="1146">100</text>
<text x="2860" y="1155">Time (ns)</text>
<rect x="3034" y="967" width="237" height="161" fill="#fff" stroke="#333" stroke-width="1.2"/>
<polyline points="3040,1050 3045,1100 3050,1105 3055,1115 3060,1118 3065,1108 3070,1090 3073,1030 3076,1075 3080,1110 3085,1100 3090,1112 3095,1092 3100,1105 3105,1115 3110,1100 3115,1080 3118,1060 3120,1045 3125,1080 3130,1100 3135,1092 3140,1100 3145,1095 3150,1108 3155,1090 3160,1115 3165,1100 3170,1110 3175,1075 3178,1033 3182,1090 3187,1100 3192,1115 3197,1100 3202,1110 3207,1100 3212,1092 3216,1085 3220,1070 3225,1060 3230,1040 3234,1000 3237,970" fill="none" stroke="#e8a020" stroke-width="1.5"/>
<line x1="3200" y1="977" x2="3215" y2="977" stroke="#e8a020" stroke-width="1.5"/><text x="3218" y="980">M96_AKT1</text>
<text x="3022" y="985">0.7</text><text x="3022" y="1028">0.5</text><text x="3022" y="1070">0.3</text><text x="3022" y="1112">0.1</text>
<text x="3045" y="1140">0</text><text x="3070" y="1140">20</text><text x="3110" y="1140">60</text><text x="3150" y="1140">80</text><text x="3190" y="1140">100</text><text x="3232" y="1140">120</text>
<text x="3125" y="1150">Residue number</text>
<text x="3345" y="962" font-weight="bold">Residue Cross Correlation</text>
<rect x="3311" y="967" width="179" height="161" fill="#fbf6fb" stroke="#ccc"/>
<g fill="#f0b8ec" opacity="0.9"><ellipse cx="3340" cy="1000" rx="15" ry="10"/><ellipse cx="3370" cy="1060" rx="12" ry="14"/><ellipse cx="3430" cy="1040" rx="15" ry="12"/><ellipse cx="3460" cy="1090" rx="14" ry="10"/><ellipse cx="3335" cy="1110" rx="12" ry="8"/><ellipse cx="3400" cy="985" rx="18" ry="8"/><ellipse cx="3470" cy="1010" rx="12" ry="14"/><ellipse cx="3440" cy="1110" rx="16" ry="10"/></g>
<g fill="#b0f0ee" opacity="0.9"><ellipse cx="3360" cy="1025" rx="12" ry="8"/><ellipse cx="3455" cy="1060" rx="10" ry="8"/><ellipse cx="3320" cy="1045" rx="8" ry="12"/></g>
<line x1="3311" y1="1128" x2="3490" y2="967" stroke="#60e0e0" stroke-width="10"/>
<rect x="3501" y="967" width="9" height="161" fill="#f8f8f8"/>
<rect x="3501" y="967" width="9" height="40" fill="#80f0f0"/>
<rect x="3501" y="1060" width="9" height="68" fill="#f0a0ea"/>
<text x="3370" y="1140">Residue No.</text>
<rect x="2841" y="1170" width="251" height="168" fill="#fff" stroke="#333" stroke-width="1.2"/>
<path d="M2855,1338 L2855,1314 L2862,1314 L2862,1290 L2868,1290 L2868,1266 L2872,1266 L2872,1314 L2878,1314 L2878,1218 L2881,1218 L2881,1290 L2888,1290 L2888,1266 L2895,1266 L2895,1290 L2900,1290 L2900,1242 L2905,1242 L2905,1290 L2912,1290 L2912,1266 L2918,1266 L2918,1218 L2921,1218 L2921,1266 L2928,1266 L2928,1242 L2935,1242 L2935,1266 L2942,1266 L2942,1242 L2950,1242 L2950,1218 L2953,1218 L2953,1266 L2960,1266 L2960,1242 L2968,1242 L2968,1266 L2975,1266 L2975,1242 L2985,1242 L2985,1218 L2990,1218 L2990,1242 L3000,1242 L3000,1266 L3008,1266 L3008,1218 L3012,1218 L3012,1242 L3020,1242 L3020,1218 L3026,1218 L3026,1266 L3035,1266 L3035,1242 L3040,1242 L3040,1266 L3048,1266 L3048,1290 L3055,1290 L3055,1266 L3062,1266 L3062,1314 L3070,1314 L3070,1242 L3074,1242 L3074,1314 L3080,1314 L3080,1338 Z" fill="#f5a200"/>
<rect x="3015" y="1177" width="15" height="8" fill="#f5a200"/><text x="3034" y="1184">M96_AKT1</text>
<text x="2832" y="1174">7</text><text x="2832" y="1222">5</text><text x="2832" y="1270">3</text><text x="2832" y="1318">1</text>
<text x="2853" y="1350">0</text><text x="2895" y="1350">20</text><text x="2940" y="1350">40</text><text x="2985" y="1350">60</text><text x="3030" y="1350">80</text><text x="3072" y="1350">100</text>
<text x="2955" y="1360">Time (ns)</text>
<text x="2820" y="1290" transform="rotate(-90 2820 1290)">Number of Hbond</text>
<text x="3270" y="1170" font-size="9">Binding Free energy</text>
<rect x="3179" y="1174" width="277" height="160" fill="#fff" stroke="#333" stroke-width="1.2"/>
<rect x="3193" y="1249" width="29" height="22" fill="#a8c8f0" stroke="#555"/>
<rect x="3230" y="1249" width="30" height="7" fill="#f8b890" stroke="#555"/>
<rect x="3267" y="1233" width="29" height="16" fill="#80e0a0" stroke="#555"/>
<rect x="3304" y="1249" width="30" height="4" fill="#f09090" stroke="#555"/>
<rect x="3341" y="1249" width="30" height="29" fill="#c8a8f0" stroke="#555"/>
<rect x="3378" y="1237" width="30" height="12" fill="#d8b090" stroke="#555"/>
<rect x="3415" y="1249" width="29" height="17" fill="#f0a8e0" stroke="#555"/>
<g font-size="7"><rect x="3205" y="1180" width="9" height="5" fill="#a8c8f0"/><text x="3217" y="1185">VDWAALS</text><rect x="3205" y="1190" width="9" height="5" fill="#f8b890"/><text x="3217" y="1195">EEL</text><rect x="3205" y="1200" width="9" height="5" fill="#80e0a0"/><text x="3217" y="1205">EGB</text><rect x="3280" y="1180" width="9" height="5" fill="#f09090"/><text x="3292" y="1185">ESURF</text><rect x="3280" y="1190" width="9" height="5" fill="#c8a8f0"/><text x="3292" y="1195">GGAS</text><rect x="3340" y="1180" width="9" height="5" fill="#d8b090"/><text x="3352" y="1185">GSOLV</text><rect x="3340" y="1190" width="9" height="5" fill="#f0a8e0"/><text x="3352" y="1195">TOTAL</text>
<text x="3196" y="1263">-20.69</text><text x="3236" y="1246">-6.01</text><text x="3272" y="1227">14.52</text><text x="3308" y="1246">-3.29</text><text x="3345" y="1268">-26.71</text><text x="3383" y="1231">11.23</text><text x="3418" y="1260">-15.48</text></g>
<text x="3165" y="1178">70</text><text x="3168" y="1252">0</text><text x="3160" y="1334">-80</text>
<text x="3183" y="1345">VDWAALS EEL   EGB  ESURF GGAS GSOLV TOTAL</text>
<text x="3148" y="1270" transform="rotate(-90 3148 1270)">kcal/mol</text>
</g>
<text class="s" x="3089" y="1410" font-size="48" text-anchor="middle" textLength="386" lengthAdjust="spacingAndGlyphs">molecular dynamics</text>
</svg>
</body></html>
